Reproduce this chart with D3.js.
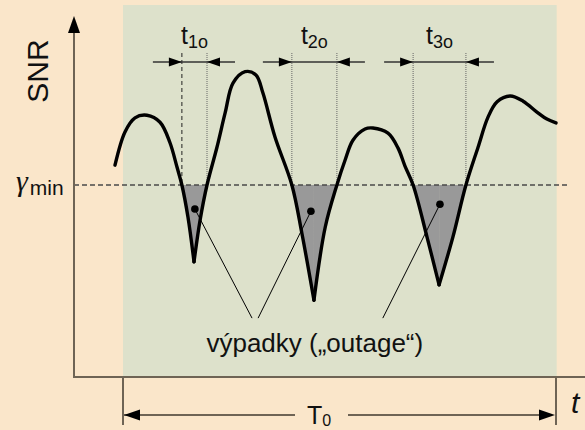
<!DOCTYPE html>
<html><head><meta charset="utf-8">
<script src="https://cdn.jsdelivr.net/npm/d3@7"></script>
<style>html,body{margin:0;padding:0;background:#FAE6CA;} svg{display:block;font-family:"Liberation Sans",Arial,sans-serif;}</style>
</head><body><svg id="c" width="585" height="430"></svg>
<script>
// ---- data (time in % of T0, SNR relative to gamma_min) ----
const hump0 = [[-1.85,3.1],[0.46,8.3],[2.77,10.5],[5.54,10.9],[8.55,9.8],[10.85,6.6],[12.47,2.8],[13.6,0],[15.0,-5.0],[16.4,-12.0]];
const hump1 = [[16.4,-12.0],[17.8,-5.5],[19.4,0],[21.7,5.9],[23.6,11.3],[25.4,15.9],[28.2,17.7],[30.7,17.2],[32.3,14.4],[35.1,7.5],[39.0,0],[41.3,-7.5],[44.1,-18.0]];
const hump2 = [[44.1,-18.0],[46.7,-6.6],[49.4,0],[51.3,3.9],[53.1,7.0],[55.9,8.75],[57.7,8.9],[61.2,8.1],[63.5,5.8],[65.1,3.0],[67.0,0],[70.2,-8.1],[73.0,-15.6]];
const hump3 = [[73.0,-15.6],[76.2,-8.1],[79.2,0],[82.0,5.9],[84.3,10.6],[86.4,13.0],[89.4,13.9],[92.4,13.1],[95.6,11.4],[97.9,10.3],[100,9.7]];
const gammaMin = 0;
const outageStart = [13.6, 39.0, 67.0];
const outageEnd = [19.4, 49.4, 79.2];
const outageSub = ["1o", "2o", "3o"];
const dotPoints = [[16.6,-3.75],[43.4,-4.1],[73.2,-3.0]];
const calloutPoints = [[29.8,-20.8],[31.2,-20.8],[60.0,-20.8]];
const outageText = "výpadky („outage“)";
const yLabel = "SNR", xLabel = "t", periodLabel = "T", periodSub = "0";
const gammaLabel = "γ", gammaSub = "min";

// ---- scales ----
const W = 585, H = 430;
const x = d3.scaleLinear().domain([0, 100]).range([123, 556]);
const y = d3.scaleLinear().domain([-30, 30]).range([377, -7]);
const axisT = x.invert(74), axisTop = y.invert(16), axisBottom = -30;

const svg = d3.select("#c");
svg.append("rect").attr("width", W).attr("height", H).attr("fill", "#FAE6CA");
svg.append("rect").attr("x", x(0)).attr("y", 5).attr("width", x(100) - x(0) + 0.7)
  .attr("height", y(axisBottom) - 5).attr("fill", "#DDE1CB");

const humps = [hump0, hump1, hump2, hump3];
const cr = d3.curveCatmullRom.alpha(0.5);
const line = d3.line().x(d => x(d[0])).y(d => y(d[1])).curve(cr);
const area = d3.area().x(d => x(d[0])).y0(y(gammaMin)).y1(d => y(d[1])).curve(cr);

svg.append("clipPath").attr("id", "below").append("rect")
  .attr("x", 0).attr("y", y(gammaMin)).attr("width", W).attr("height", H);
svg.append("g").attr("clip-path", "url(#below)").selectAll("path").data(humps).join("path")
  .attr("d", area).attr("fill", "#999999");

// gamma line
svg.append("line").attr("x1", x(axisT)).attr("x2", 570).attr("y1", y(gammaMin)).attr("y2", y(gammaMin))
  .attr("stroke", "#4a4a4a").attr("stroke-width", 1.3).attr("stroke-dasharray", "5,3");

// vertical guide lines
const arrowY = 62, guideTop = 53;
outageStart.forEach((s, i) => {
  [s, outageEnd[i]].forEach((t, j) => {
    const dashed = (i === 0 && j === 0);
    svg.append("line").attr("x1", x(t)).attr("x2", x(t)).attr("y1", guideTop).attr("y2", y(gammaMin))
      .attr("stroke", dashed ? "#222" : "#666").attr("stroke-width", 1)
      .attr("stroke-dasharray", dashed ? "4,3" : "1,1");
  });
});

// curve
svg.append("g").selectAll("path").data(humps).join("path")
  .attr("d", line).attr("fill", "none").attr("stroke", "#000").attr("stroke-width", 3.4)
  .attr("stroke-linejoin", "miter").attr("stroke-miterlimit", 20).attr("stroke-linecap", "round");

function head(px, py, dir, len, half) {
  if (dir === "up") return `M${px},${py}L${px - half},${py + len}L${px + half},${py + len}Z`;
  return `M${px},${py}L${px - dir * len},${py - half}L${px - dir * len},${py + half}Z`;
}

// t_io dimension arrows
outageStart.forEach((s, i) => {
  const xa = x(s), xb = x(outageEnd[i]);
  svg.append("line").attr("x1", xa - 29).attr("x2", xb + 28).attr("y1", arrowY).attr("y2", arrowY)
    .attr("stroke", "#333").attr("stroke-width", 1.3);
  svg.append("path").attr("d", head(xa, arrowY, 1, 13, 4.5)).attr("fill", "#000");
  svg.append("path").attr("d", head(xb, arrowY, -1, 13, 4.5)).attr("fill", "#000");
  const tx = svg.append("text").attr("x", (xa + xb) / 2).attr("y", 44).attr("text-anchor", "middle")
    .attr("fill", "#111");
  tx.append("tspan").attr("font-size", 25).text("t");
  tx.append("tspan").attr("font-size", 18).attr("dy", 4).text(outageSub[i]);
});

// callouts
dotPoints.forEach((d, i) => {
  svg.append("line").attr("x1", x(d[0])).attr("y1", y(d[1]))
    .attr("x2", x(calloutPoints[i][0])).attr("y2", y(calloutPoints[i][1]))
    .attr("stroke", "#000").attr("stroke-width", 1);
  svg.append("circle").attr("cx", x(d[0])).attr("cy", y(d[1])).attr("r", 3.8).attr("fill", "#000");
});
svg.append("text").attr("x", x(44.3)).attr("y", 352).attr("text-anchor", "middle")
  .attr("font-size", 26).attr("fill", "#111").text(outageText);

// axes
const axisColor = "#6E6455";
svg.append("line").attr("x1", x(axisT)).attr("x2", x(axisT)).attr("y1", y(axisBottom)).attr("y2", y(axisTop) + 10)
  .attr("stroke", axisColor).attr("stroke-width", 2);
svg.append("path").attr("d", head(x(axisT), y(axisTop), "up", 17, 6)).attr("fill", "#000");
svg.append("line").attr("x1", x(axisT) - 1).attr("x2", W).attr("y1", y(axisBottom)).attr("y2", y(axisBottom))
  .attr("stroke", axisColor).attr("stroke-width", 2);

// T0 dimension
const dimY = 415;
[0, 100].forEach(t => svg.append("line").attr("x1", x(t)).attr("x2", x(t)).attr("y1", y(axisBottom)).attr("y2", 425)
  .attr("stroke", axisColor).attr("stroke-width", 2));
svg.append("line").attr("x1", x(0)).attr("x2", 295).attr("y1", dimY).attr("y2", dimY)
  .attr("stroke", axisColor).attr("stroke-width", 2);
svg.append("line").attr("x1", 348).attr("x2", x(100) - 5).attr("y1", dimY).attr("y2", dimY)
  .attr("stroke", axisColor).attr("stroke-width", 2);
svg.append("path").attr("d", head(x(0) + 1, dimY, -1, 16, 5.5)).attr("fill", "#000");
svg.append("path").attr("d", head(x(100) - 1, dimY, 1, 16, 5.5)).attr("fill", "#000");
const T0 = svg.append("text").attr("x", 307).attr("y", 424).attr("fill", "#111");
T0.append("tspan").attr("font-size", 25).text(periodLabel);
T0.append("tspan").attr("font-size", 16).attr("dy", 2).text(periodSub);

// labels
svg.append("text").attr("transform", "translate(48,71) rotate(-90)").attr("text-anchor", "middle")
  .attr("font-size", 30).attr("fill", "#111").text(yLabel);
svg.append("text").attr("x", 571).attr("y", 413).attr("font-size", 30).attr("font-style", "italic")
  .attr("fill", "#111").text(xLabel);
const g = svg.append("text").attr("x", 16).attr("y", 191).attr("fill", "#111");
g.append("tspan").attr("font-family", "'Liberation Serif','Times New Roman',serif").attr("font-style", "italic")
  .attr("font-size", 30).text(gammaLabel);
g.append("tspan").attr("font-size", 21).attr("dx", 2).attr("dy", 4).text(gammaSub);
</script></body></html>
